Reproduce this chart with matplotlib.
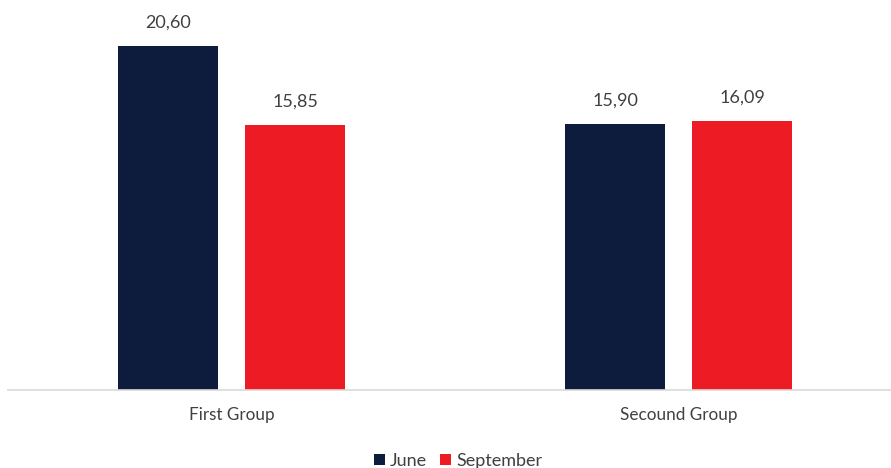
import matplotlib.pyplot as plt
import numpy as np

# data
groups = ['First Group', 'Secound Group']
june = [20.60, 15.90]
september = [15.85, 16.09]
series_names = ['June', 'September']

navy = '#0D1B3C'
red = '#ED1C24'
text_col = '#404040'

plt.rcParams['font.family'] = ['Lato', 'DejaVu Sans']

fig = plt.figure(figsize=(8.91, 4.68), dpi=100)
ax = fig.add_axes([8 / 891, 78 / 468, 894 / 891, 390 / 468])

x = np.arange(len(groups))
w = 100 / 447
off = 63.5 / 447
b1 = ax.bar(x - off, june, w, color=navy, label=series_names[0])
b2 = ax.bar(x + off, september, w, color=red, label=series_names[1])

for bars in (b1, b2):
    for rect in bars:
        h = rect.get_height()
        ax.annotate('{:.2f}'.format(h).replace('.', ','),
                    (rect.get_x() + rect.get_width() / 2, h),
                    xytext=(0, 17), textcoords='offset points',
                    ha='center', va='center', fontsize=13, color=text_col)

ax.set_xlim(-0.5, 1.5)
ax.set_ylim(0, 390 / 16.7)
ax.set_xticks(x)
ax.set_xticklabels(groups, fontsize=12.3, color=text_col)
ax.tick_params(axis='x', length=0, pad=12)
ax.set_yticks([])
for s in ['top', 'right', 'left']:
    ax.spines[s].set_visible(False)
ax.spines['bottom'].set_color('#D9D9D9')
ax.spines['bottom'].set_linewidth(1.2)

leg = fig.legend(loc='center', bbox_to_anchor=(458 / 891, 1 - 461 / 468), ncol=2,
                 frameon=False, fontsize=13, handlelength=0.6, handleheight=0.6,
                 handletextpad=0.3, columnspacing=0.7)
for t in leg.get_texts():
    t.set_color(text_col)

fig.savefig('out.png', dpi=100)
